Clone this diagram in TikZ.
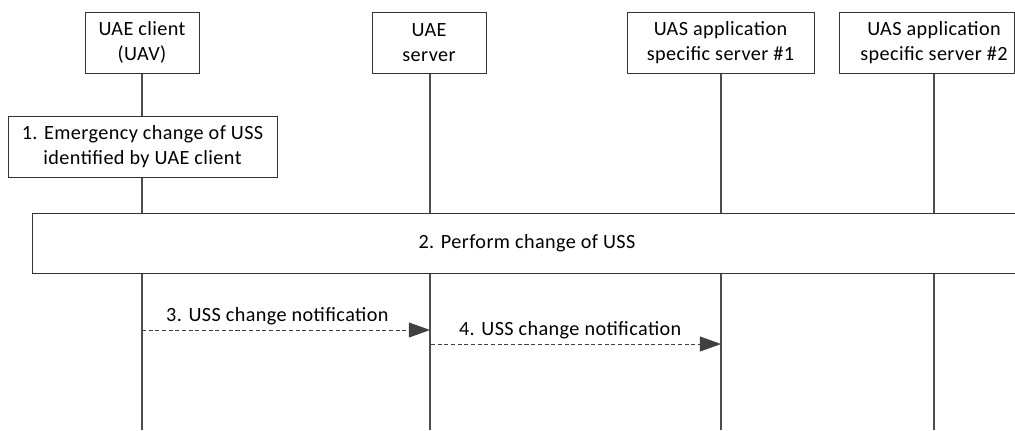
\documentclass[tikz,border=0pt]{standalone}
\usepackage{fontspec}
\setmainfont{Carlito}[LetterSpace=2]
\usetikzlibrary{arrows.meta}

\begin{document}
\begin{tikzpicture}[x=0.02cm,y=-0.02cm,
  font=\fontsize{11.5}{14.5}\selectfont,
  entity/.style={draw=black!80,fill=white,align=center,minimum height=1.22cm,inner sep=1pt},
  lifeline/.style={draw=black!70,line width=0.6pt},
  msg/.style={color=black!75,dash pattern=on 2.3pt off 1.5pt,line width=0.5pt,
    -{Triangle[length=12pt,width=8.5pt]}}]
\useasboundingbox (0,0) rectangle (1015,430);

% lifelines first, boxes go on top
\foreach \n/\x in {uae/142,srv/430,as1/721,as2/934} {
  \coordinate (\n-top) at (\x,73);
  \coordinate (\n-bot) at (\x,430);
  \draw[lifeline] (\n-top) -- (\n-bot);
}

% entities
\node[entity,minimum width=2.28cm] (uae) at (142,42.5) {UAE client\\(UAV)};
\node[entity,minimum width=2.28cm] (srv) at (429,42.5) {UAE\\server};
\node[entity,minimum width=3.74cm] (as1) at (720.5,42.5) {UAS application\\specific server \#1};
\node[entity,minimum width=3.5cm] (as2) at (926.5,42.5)
  {\hspace*{0.3cm}UAS application\\\hspace*{0.3cm}specific server \#2};

% steps
\node[entity,minimum width=5.38cm] (step1) at (142.5,146.5)
  {1. Emergency change of USS\\identified by UAE client};
\node[entity,minimum width=19.8cm,minimum height=1.2cm] (step2) at (527,243)
  {2. Perform change of USS};

% messages
\coordinate (m3-from) at (142,330);
\coordinate (m3-to) at (430,330);
\coordinate (m4-from) at (431,344);
\coordinate (m4-to) at (721,344);
\draw[msg] (m3-from) -- node[pos=0.47,above=-1pt,text=black] {3. USS change notification} (m3-to);
\draw[msg] (m4-from) -- node[pos=0.48,above=-1pt,text=black] {4. USS change notification} (m4-to);

\end{tikzpicture}
\end{document}
